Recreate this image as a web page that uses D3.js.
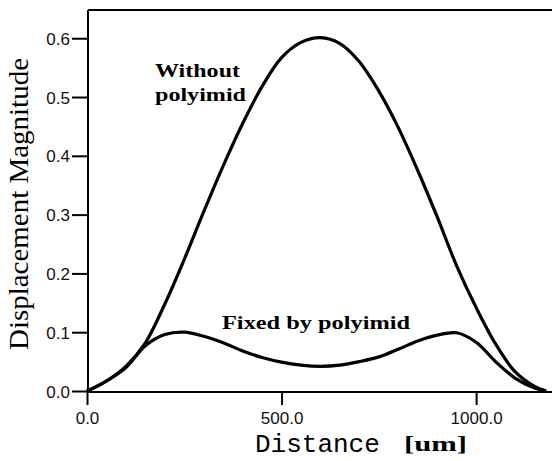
<!DOCTYPE html>
<html>
<head>
<meta charset="utf-8">
<script src="https://cdn.jsdelivr.net/npm/d3@7"></script>
<style>
  body { margin: 0; background: #fff; }
  .tick text { font-family: "Liberation Sans", Arial, sans-serif; font-size: 17px; fill: #111; }
  .curve { fill: none; stroke: #000; stroke-width: 3.2; stroke-linejoin: round; }
  .note { font-family: "Liberation Serif", serif; font-weight: bold; font-size: 18px; }
</style>
</head>
<body>
<svg id="chart" width="552" height="461"></svg>
<script>
// distance along the structure [um]
var distance = [0, 50, 100, 150, 200, 250, 300, 350, 400, 450, 500, 550, 600,
                650, 700, 750, 800, 850, 900, 950, 1000, 1050, 1100, 1150, 1180];
// displacement, free membrane
var withoutPolyimid = [0, 0.017, 0.042, 0.082, 0.148, 0.224, 0.305, 0.383, 0.455, 0.518, 0.567, 0.593, 0.601,
                       0.591, 0.56, 0.51, 0.448, 0.375, 0.296, 0.213, 0.142, 0.08, 0.033, 0.008, 0];
// displacement, fixed by polyimid
var fixedByPolyimid = [0, 0.017, 0.04, 0.077, 0.096, 0.1, 0.093, 0.082, 0.068, 0.057, 0.049, 0.044, 0.042,
                       0.044, 0.05, 0.058, 0.071, 0.085, 0.095, 0.099, 0.083, 0.05, 0.022, 0.005, 0];
var xTicks = [0, 500, 1000];
var yTicks = [0, 0.1, 0.2, 0.3, 0.4, 0.5, 0.6];

var svg = d3.select('#chart');
var pLeft = 88, pTop = 10, pRight = 552, pBottom = 392;

var x = d3.scaleLinear().domain([0, 1195]).range([pLeft - 1, pRight]);
var y = d3.scaleLinear().domain([0, 0.648]).range([pBottom - 1, pTop]);

// frame: top border
svg.append('line').attr('x1', pLeft).attr('x2', pRight).attr('y1', pTop).attr('y2', pTop)
    .attr('stroke', '#000').attr('stroke-width', 2);

var xAxis = svg.append('g').attr('transform', 'translate(0,' + pBottom + ')')
    .call(d3.axisBottom(x).tickValues(xTicks).tickFormat(d3.format('.1f')).tickSize(13).tickSizeOuter(0));
var yAxis = svg.append('g').attr('transform', 'translate(' + pLeft + ',0)')
    .call(d3.axisLeft(y).tickValues(yTicks).tickFormat(d3.format('.1f')).tickSize(16).tickSizeOuter(0));

[xAxis, yAxis].forEach(function(g) {
    g.select('.domain').attr('stroke', '#000').attr('stroke-width', 2);
    g.selectAll('.tick line').attr('stroke', '#000').attr('stroke-width', 2);
});
xAxis.select('.domain').attr('d', 'M' + pLeft + ',0H' + pRight);
yAxis.select('.domain').attr('d', 'M0,' + pTop + 'V' + pBottom);
xAxis.selectAll('.tick text').attr('y', 20);
yAxis.selectAll('.tick text').attr('x', -18).attr('dy', '0.36em');

var line = d3.line()
    .x(function(d, i) { return x(distance[i]); })
    .y(function(d) { return y(d); })
    .curve(d3.curveCatmullRom.alpha(0.5));

svg.append('path').datum(withoutPolyimid).attr('class', 'curve').attr('d', line);
svg.append('path').datum(fixedByPolyimid).attr('class', 'curve').attr('d', line);

// labels on the curves
svg.append('text').attr('class', 'note').attr('x', 155).attr('y', 77)
    .attr('textLength', 85).attr('lengthAdjust', 'spacingAndGlyphs').text('Without');
svg.append('text').attr('class', 'note').attr('x', 155).attr('y', 101)
    .attr('textLength', 91).attr('lengthAdjust', 'spacingAndGlyphs').text('polyimid');
svg.append('text').attr('class', 'note').attr('x', 222).attr('y', 329)
    .attr('textLength', 188).attr('lengthAdjust', 'spacingAndGlyphs').text('Fixed by polyimid');

// axis titles
svg.append('text')
    .attr('transform', 'translate(28,' + 204 + ') rotate(-90)')
    .attr('text-anchor', 'middle')
    .attr('textLength', 292).attr('lengthAdjust', 'spacingAndGlyphs')
    .style('font-family', '"Liberation Serif", serif').style('font-size', '27px')
    .text('Displacement Magnitude');

svg.append('text').attr('x', 255).attr('y', 452)
    .style('font-family', '"Liberation Mono", monospace').style('font-size', '26px').text('Distance');
svg.append('text').attr('x', 404).attr('y', 451)
    .attr('textLength', 63).attr('lengthAdjust', 'spacingAndGlyphs')
    .style('font-family', '"Liberation Serif", serif').style('font-weight', 'bold')
    .style('font-size', '20px').text('[um]');
</script>
</body>
</html>
